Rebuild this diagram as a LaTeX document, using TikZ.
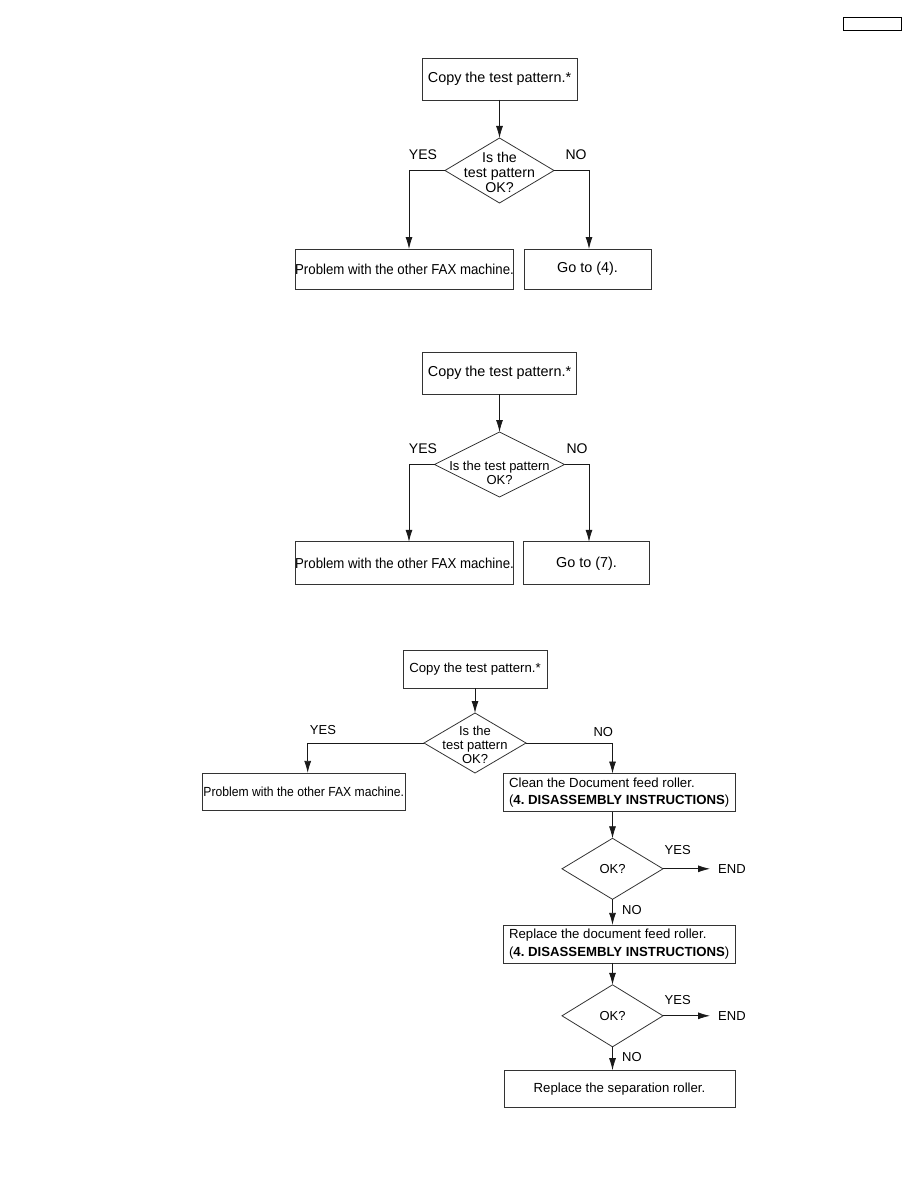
\documentclass[tikz,border=0pt]{standalone}
\usepackage{graphicx}
\usepackage{fontspec}
\setmainfont{Liberation Sans}
\usetikzlibrary{shapes.geometric, arrows.meta, positioning, calc}
\tikzset{
  box/.style={
    rectangle, draw=black!80, line width=0.8pt, fill=white,
    inner sep=0pt, outer sep=0pt, text centered,
    font=\fontsize{14.4}{15}\selectfont
  },
  smallbox/.style={box, font=\fontsize{13.2}{17.5}\selectfont},
  notebox/.style={
    box, align=left, minimum width=232pt,
    minimum height=38pt, font=\fontsize{13.2}{17.5}\selectfont\frenchspacing
  },
  decision/.style={
    diamond, draw=black!80, line width=0.8pt,
    inner sep=0pt, outer sep=0pt
  },
  dtext/.style={align=center, inner sep=0pt, font=\fontsize{14.2}{15}\selectfont},
  dtextsmall/.style={dtext, font=\fontsize{13}{14}\selectfont},
  answer/.style={inner sep=0pt, font=\fontsize{14}{15}\selectfont},
  answersmall/.style={answer, font=\fontsize{13}{14}\selectfont},
  arrow/.style={line width=0.8pt, draw=black!90, -{Latex[length=12pt,width=7pt]}},
}

\begin{document}
\begin{tikzpicture}[x=1pt, y=-1pt]
  \useasboundingbox (0,0) rectangle (918,1188);
  \node (pageno) [draw, line width=1.5pt, minimum width=58pt, minimum height=13pt, inner sep=0pt] at (872.5,24) {};

  % first check
  \node (copy1) [box, minimum width=155pt, minimum height=42pt] at (499.5,79) {Copy the test pattern.*};
  \node (chk1)  [decision, minimum width=109pt, minimum height=65pt, below=38pt of copy1,
                 label={[dtext, yshift=-2pt]center:Is the\\test pattern\\OK?}] {};
  \node (prob1) [box, minimum width=217pt, minimum height=40pt] at (404.5,269) {\scalebox{0.92}[1]{Problem with the other FAX machine.}};
  \node (goto4) [box, minimum width=127pt, minimum height=40pt] at (587.5,269) {Go to (4).};
  \node (yes1)  [answer] at (423,155) {YES};
  \node (no1)   [answer] at (576,155) {NO};

  \draw [arrow] (copy1) -- (chk1);
  \draw [arrow] (chk1.west) -| ([xshift=4.5pt]prob1.north);
  \draw [arrow] (chk1.east) -| ([xshift=1.5pt]goto4.north);

  % second check
  \node (copy2) [box, minimum width=154pt, minimum height=42pt] at (499.5,373) {Copy the test pattern.*};
  \node (chk2)  [decision, minimum width=130pt, minimum height=65pt, below=38pt of copy2,
                 label={[dtextsmall, yshift=-8pt]center:Is the test pattern\\OK?}] {};
  \node (prob2) [box, minimum width=217pt, minimum height=43pt] at (404.5,563.3) {\scalebox{0.92}[1]{Problem with the other FAX machine.}};
  \node (goto7) [box, minimum width=126pt, minimum height=43pt] at (586.5,563.3) {Go to (7).};
  \node (yes2)  [answer] at (423,449) {YES};
  \node (no2)   [answer] at (577,449) {NO};

  \draw [arrow] (copy2) -- (chk2);
  \draw [arrow] (chk2.west) -| ([xshift=4.5pt]prob2.north);
  \draw [arrow] (chk2.east) -| ([xshift=2.5pt]goto7.north);

  % third check
  \node (copy3) [smallbox, minimum width=144pt, minimum height=38pt] at (475,669) {Copy the test pattern.*};
  \node (chk3)  [decision, minimum width=102pt, minimum height=60pt, below=25pt of copy3,
                 label={[dtextsmall, yshift=-2pt]center:Is the\\test pattern\\OK?}] {};
  \node (prob3) [smallbox, minimum width=203pt, minimum height=37pt] at (303.7,791.4) {\scalebox{0.92}[1]{Problem with the other FAX machine.}};
  \node (clean) [notebox] at (619.2,792.5) {Clean the Document feed roller.\\(\textbf{4. DISASSEMBLY INSTRUCTIONS})};
  \node (ok1)   [decision, minimum width=101pt, minimum height=61pt,
                 label={[dtextsmall]center:OK?}] at (612.5,868.8) {};
  \node (repl)  [notebox] at (619.2,943.9) {Replace the document feed roller.\\(\textbf{4. DISASSEMBLY INSTRUCTIONS})};
  \node (ok2)   [decision, minimum width=101pt, minimum height=62pt,
                 label={[dtextsmall]center:OK?}] at (612.5,1015.8) {};
  \node (sep)   [smallbox, minimum width=231pt, minimum height=37pt] at (619.5,1088.7) {Replace the separation roller.};
  \node (yes3)  [answersmall] at (323,730) {YES};
  \node (no3)   [answersmall] at (603.3,731.7) {NO};
  \node (yes4)  [answersmall] at (677.7,850) {YES};
  \node (end1)  [answersmall, anchor=west] at (718,869.3) {END};
  \node (no4)   [answersmall, anchor=west] at (622,910) {NO};
  \node (yes5)  [answersmall] at (677.7,1000) {YES};
  \node (end2)  [answersmall, anchor=west] at (718,1016) {END};
  \node (no5)   [answersmall, anchor=west] at (622,1057.3) {NO};

  \draw [arrow] (copy3) -- (chk3);
  \draw [arrow] (chk3.west) -| ([xshift=4pt]prob3.north);
  \draw [arrow] (chk3.east) -| (clean.north -| ok1);
  \draw [arrow] (clean.south -| ok1) -- (ok1.north);
  \draw [arrow, shorten >=8pt] (ok1.east) -- (ok1.east -| end1.west);
  \draw [arrow] (ok1.south) -- (repl.north -| ok1);
  \draw [arrow] (repl.south -| ok2) -- (ok2.north);
  \draw [arrow, shorten >=8pt] (ok2.east) -- (ok2.east -| end2.west);
  \draw [arrow] (ok2.south) -- (sep.north -| ok2);
\end{tikzpicture}
\end{document}
